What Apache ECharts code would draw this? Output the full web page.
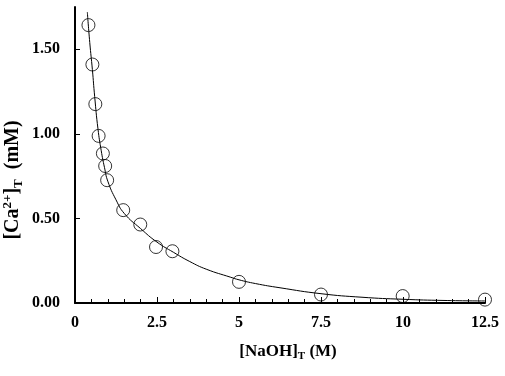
<!DOCTYPE html>
<html><head><meta charset="utf-8">
<script src="https://cdn.jsdelivr.net/npm/echarts@6/dist/echarts.min.js"></script>
<style>html,body{margin:0;padding:0;background:#fff}#c{width:505px;height:376px}</style>
</head><body><div id="c"></div>
<script>
var naohData = [0.41, 0.53, 0.62, 0.72, 0.85, 0.92, 0.98, 1.47, 1.99, 2.47, 2.97, 5.0, 7.5, 9.99, 12.5];
var caData = [1.643, 1.41, 1.176, 0.988, 0.884, 0.81, 0.726, 0.549, 0.464, 0.331, 0.306, 0.125, 0.05, 0.041, 0.02];
var fitX = [0.376, 0.45, 0.53, 0.6, 0.7, 0.8, 0.9, 1.0, 1.25, 1.5, 2.0, 2.5, 3.0, 3.5, 4.0, 4.75, 5.0, 5.5, 6.25, 7.5, 8.75, 10, 11.25, 12.5];
var fitY = [1.72, 1.54, 1.38, 1.22, 1.03, 0.90, 0.80, 0.72, 0.61, 0.53, 0.44, 0.36, 0.30, 0.245, 0.2, 0.152, 0.137, 0.115, 0.09, 0.055, 0.034, 0.022, 0.015, 0.012];
var yTicks = [0, 0.5, 1.0, 1.5];
var xTicks = [0, 2.5, 5, 7.5, 10, 12.5];

var font = '"Liberation Serif", "Times New Roman", serif';
var chart = echarts.init(document.getElementById('c'));
chart.setOption({
  animation: false,
  grid: {left: 75, right: 20, top: 7, bottom: 73, containLabel: false, outerBoundsMode: 'none'},
  xAxis: {
    type: 'value', min: 0, max: 12.5, interval: 2.5,
    axisLine: {show: true, lineStyle: {color: '#000', width: 2}},
    axisTick: {show: true, inside: true, length: 6, customValues: xTicks, lineStyle: {color: '#000', width: 1}},
    minorTick: {show: true, splitNumber: 5, length: 4, lineStyle: {color: '#000', width: 1}},
    splitLine: {show: false},
    axisLabel: {color: '#000', fontFamily: font, fontWeight: 'bold', fontSize: 16, margin: 12, customValues: xTicks,
      formatter: function (v) { return String(v); }},
    name: '{a|[NaOH]}{s|T}{a| (M)}', nameLocation: 'middle', nameGap: 38,
    nameTextStyle: {padding: [0, 0, 0, 16], rich: {
      a: {fontFamily: font, fontWeight: 'bold', fontSize: 17, color: '#000'},
      s: {fontFamily: font, fontWeight: 'bold', fontSize: 11, color: '#000', verticalAlign: 'bottom', padding: [10, 0, 0, 0]}
    }}
  },
  yAxis: {
    type: 'value', min: 0, max: 1.75,
    axisLine: {show: true, lineStyle: {color: '#000', width: 2}},
    axisTick: {show: true, inside: true, length: 5, customValues: yTicks, lineStyle: {color: '#000', width: 1}},
    splitLine: {show: false},
    axisLabel: {color: '#000', fontFamily: font, fontWeight: 'bold', fontSize: 16, margin: 15, customValues: yTicks,
      formatter: function (v) { return v.toFixed(2); }},
    name: '{a|[Ca}{p|2+}{a|]}{s|T}{a|  (mM)}', nameLocation: 'middle', nameGap: 50, nameMoveOverlap: false,
    nameTextStyle: {padding: [0, 50, 0, 0], rich: {
      a: {fontFamily: font, fontWeight: 'bold', fontSize: 20, color: '#000'},
      p: {fontFamily: font, fontWeight: 'bold', fontSize: 13, color: '#000', verticalAlign: 'top', padding: [0, 0, 9, 0]},
      s: {fontFamily: font, fontWeight: 'bold', fontSize: 13, color: '#000', verticalAlign: 'bottom', padding: [11, 0, 0, 0]}
    }}
  },
  series: [
    {type: 'line', data: fitX.map(function (x, i) { return [x, fitY[i]]; }), smooth: 0.5, showSymbol: false,
      lineStyle: {color: '#000', width: 1}, z: 2},
    {type: 'scatter', data: naohData.map(function (x, i) { return [x, caData[i]]; }), symbol: 'circle', symbolSize: 13,
      itemStyle: {color: 'rgba(0,0,0,0)', borderColor: '#000', borderWidth: 1}, z: 3}
  ]
});
</script></body></html>
